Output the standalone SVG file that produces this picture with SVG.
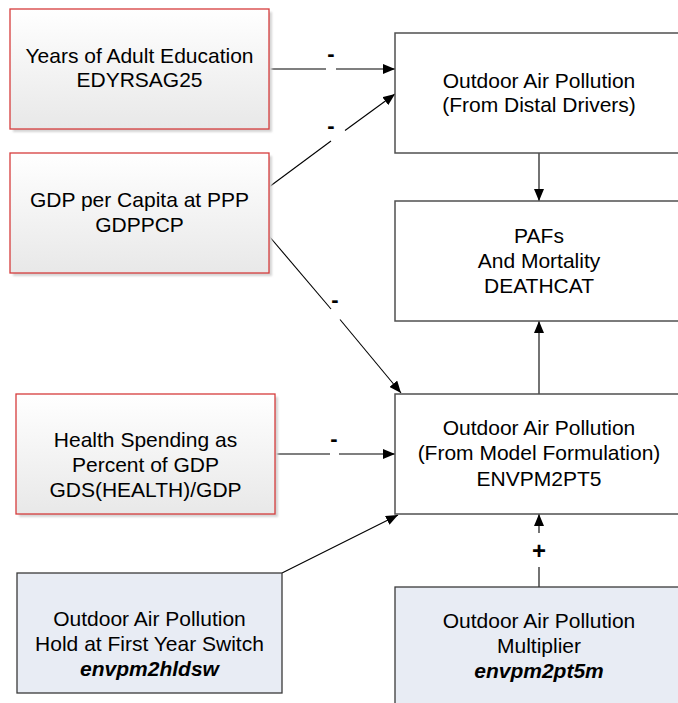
<svg xmlns="http://www.w3.org/2000/svg" width="678" height="703" viewBox="0 0 678 703">
  <defs>
    <linearGradient id="redFill" x1="0" y1="0" x2="0" y2="1">
      <stop offset="0" stop-color="#ffffff"/>
      <stop offset="1" stop-color="#e8e8e8"/>
    </linearGradient>
    <filter id="soft" x="-10%" y="-10%" width="130%" height="130%">
      <feGaussianBlur stdDeviation="1.2"/>
    </filter>
    <marker id="arrow" viewBox="0 0 12 10" refX="12" refY="5" markerWidth="12" markerHeight="10" markerUnits="userSpaceOnUse" orient="auto">
      <path d="M0,0 L12,5 L0,10 Z" fill="#000"/>
    </marker>
  </defs>
  <style>
    text { font-family: "Liberation Sans", Arial, sans-serif; font-size: 21px; fill: #000; text-anchor: middle; }
    .var { font-weight: bold; font-style: italic; }
    .sign { font-size: 22px; font-weight: bold; }
    .plus { font-size: 24px; font-weight: bold; }
    .driver { fill: url(#redFill); stroke: #d63c3c; stroke-width: 1.3; }
    .shadow { fill: #d4d4d4; filter: url(#soft); }
    .param { fill: #e8ecf4; stroke: #3a3a3a; stroke-width: 1.3; }
    .calc { fill: #ffffff; stroke: #505050; stroke-width: 1.5; }
    .link { fill: none; stroke: #000; stroke-width: 1.1; }
  </style>

  <rect width="678" height="703" fill="#ffffff"/>

  <!-- connectors -->
  <g id="connectors">
    <!-- education -> distal -->
    <line class="link" x1="269" y1="69" x2="326" y2="69"/>
    <line class="link" x1="336" y1="69" x2="395" y2="69" marker-end="url(#arrow)"/>
    <text class="sign" x="331" y="61">-</text>
    <!-- GDP -> distal -->
    <line class="link" x1="269" y1="187" x2="331" y2="141"/>
    <line class="link" x1="345" y1="130.5" x2="395" y2="94" marker-end="url(#arrow)"/>
    <text class="sign" x="331" y="133">-</text>
    <!-- GDP -> model -->
    <line class="link" x1="269" y1="236" x2="331" y2="309"/>
    <line class="link" x1="340" y1="319.5" x2="401" y2="393" marker-end="url(#arrow)"/>
    <text class="sign" x="335" y="307">-</text>
    <!-- health -> model -->
    <line class="link" x1="275" y1="454" x2="330" y2="454"/>
    <line class="link" x1="339" y1="454" x2="395" y2="454" marker-end="url(#arrow)"/>
    <text class="sign" x="334" y="446">-</text>
    <!-- hold switch -> model -->
    <line class="link" x1="282" y1="573" x2="398" y2="515" marker-end="url(#arrow)"/>
    <!-- distal -> PAFs -->
    <line class="link" x1="539" y1="153" x2="539" y2="201" marker-end="url(#arrow)"/>
    <!-- model -> PAFs -->
    <line class="link" x1="539" y1="394" x2="539" y2="321" marker-end="url(#arrow)"/>
    <!-- multiplier -> model -->
    <line class="link" x1="539" y1="587" x2="539" y2="567"/>
    <line class="link" x1="539" y1="533" x2="539" y2="514" marker-end="url(#arrow)"/>
    <text class="plus" x="539" y="559">+</text>
  </g>

  <!-- driver nodes -->
  <g id="edyrsag25">
    <rect class="shadow" x="13" y="12" width="259" height="120"/>
    <rect class="driver" x="10" y="9" width="259" height="120"/>
    <text x="139.5" y="63">Years of Adult Education</text>
    <text x="139.5" y="87">EDYRSAG25</text>
  </g>

  <g id="gdppcp">
    <rect class="shadow" x="13" y="156" width="259" height="120"/>
    <rect class="driver" x="10" y="153" width="259" height="120"/>
    <text x="139.5" y="207">GDP per Capita at PPP</text>
    <text x="139.5" y="232">GDPPCP</text>
  </g>

  <g id="health">
    <rect class="shadow" x="19" y="397" width="259" height="120"/>
    <rect class="driver" x="16" y="394" width="259" height="120"/>
    <text x="145.5" y="447">Health Spending as</text>
    <text x="145.5" y="472">Percent of GDP</text>
    <text x="145.5" y="497">GDS(HEALTH)/GDP</text>
  </g>

  <!-- parameter nodes -->
  <g id="envpm2hldsw">
    <rect class="param" x="17" y="573" width="265" height="120"/>
    <text x="149.5" y="626">Outdoor Air Pollution</text>
    <text x="149.5" y="651">Hold at First Year Switch</text>
    <text class="var" x="149.5" y="676">envpm2hldsw</text>
  </g>

  <g id="envpm2pt5m">
    <rect class="param" x="395" y="587" width="290" height="120"/>
    <text x="539" y="628">Outdoor Air Pollution</text>
    <text x="539" y="653">Multiplier</text>
    <text class="var" x="539" y="678">envpm2pt5m</text>
  </g>

  <!-- computed nodes -->
  <g id="distal">
    <rect class="calc" x="395" y="33" width="290" height="120"/>
    <text x="539" y="88">Outdoor Air Pollution</text>
    <text x="539" y="112">(From Distal Drivers)</text>
  </g>

  <g id="deathcat">
    <rect class="calc" x="395" y="201" width="290" height="120"/>
    <text x="539" y="243">PAFs</text>
    <text x="539" y="268">And Mortality</text>
    <text x="539" y="293">DEATHCAT</text>
  </g>

  <g id="envpm2pt5">
    <rect class="calc" x="395" y="394" width="290" height="120"/>
    <text x="539" y="435">Outdoor Air Pollution</text>
    <text x="539" y="460">(From Model Formulation)</text>
    <text x="539" y="486">ENVPM2PT5</text>
  </g>
</svg>
